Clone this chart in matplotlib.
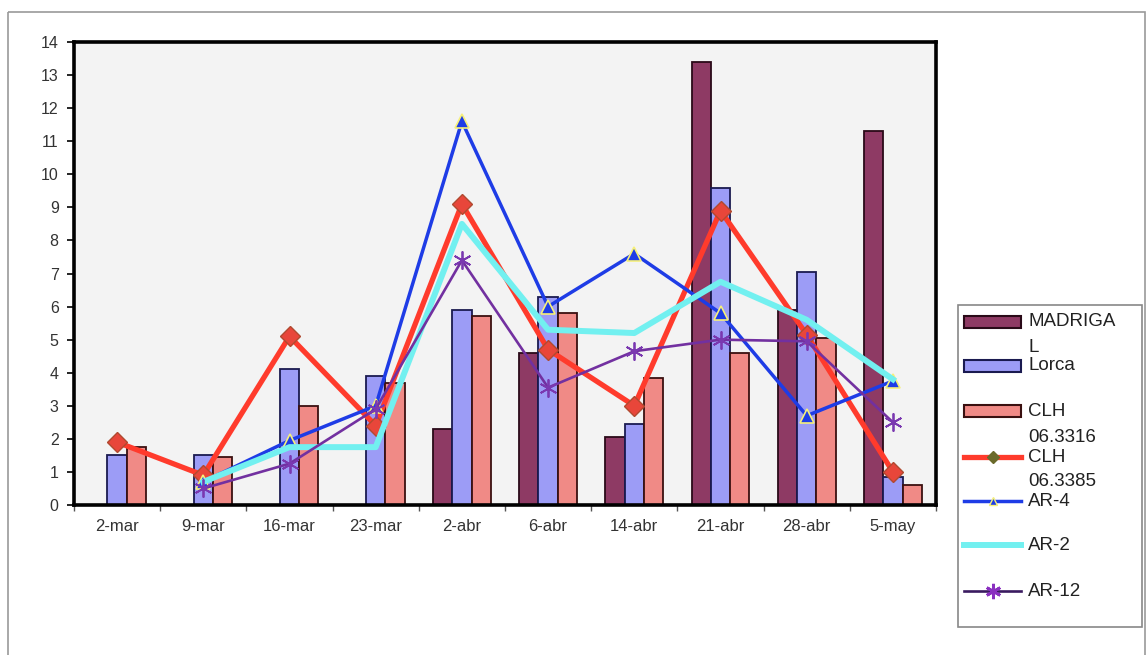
import numpy as np
import matplotlib.pyplot as plt
from matplotlib.patches import Rectangle
from matplotlib.lines import Line2D

nan = np.nan

# Weekly sampling dates
dates = ['2-mar', '9-mar', '16-mar', '23-mar', '2-abr', '6-abr', '14-abr', '21-abr', '28-abr', '5-may']

# Bar series
madrigal = [nan, nan, nan, nan, 2.3, 4.6, 2.05, 13.4, 5.9, 11.3]
lorca = [1.5, 1.5, 4.1, 3.9, 5.9, 6.3, 2.45, 9.6, 7.05, 0.85]
clh_3316 = [1.75, 1.45, 3.0, 3.7, 5.7, 5.8, 3.85, 4.6, 5.05, 0.6]

# Line series
clh_3385 = [1.9, 0.9, 5.1, 2.4, 9.1, 4.7, 3.0, 8.9, 5.15, 1.0]
ar4 = [nan, 0.7, 1.95, 3.0, 11.6, 6.0, 7.6, 5.8, 2.7, 3.75]
ar2 = [nan, 0.7, 1.75, 1.75, 8.5, 5.3, 5.2, 6.75, 5.6, 3.8]
ar12 = [nan, 0.5, 1.25, 2.9, 7.4, 3.55, 4.65, 5.0, 4.95, 2.5]

bar_colors = ['#8E3A64', '#9C9CF6', '#F08A86']
bar_edges = ['#2A0A18', '#1A1A50', '#3A1010']

plt.rcParams['font.family'] = ['Liberation Sans', 'DejaVu Sans']

fig = plt.figure(figsize=(11.47, 6.55), dpi=100)
fig.patch.set_facecolor('white')

# pixel-space overlay for the outer frame and the legend
ov = fig.add_axes([0, 0, 1, 1], zorder=0)
ov.set_xlim(0, 1147)
ov.set_ylim(655, 0)
ov.axis('off')
ov.add_patch(Rectangle((8, 12), 1137, 700, fill=False, ec='#9a9a9a', lw=1.2, clip_on=False))

ax = fig.add_axes([74 / 1147, 150 / 655, 862 / 1147, 463 / 655], zorder=2)
ax.set_facecolor('#F3F3F3')

x = np.arange(len(dates))
w = 0.224
for i, (vals, c, ec) in enumerate(zip([madrigal, lorca, clh_3316], bar_colors, bar_edges)):
    ax.bar(x + (i - 1) * w, vals, width=w, color=c, edgecolor=ec, linewidth=1.3, zorder=2)

ax.plot(x, clh_3385, color='#FF3B2C', lw=3.8, marker='D', ms=10.5,
        mfc='#E8463A', mec='#B04A30', mew=1, zorder=3)
ax.plot(x, ar4, color='#1E3CE6', lw=2.5, marker='^', ms=10,
        mfc='#1E3CE6', mec='#F6F07A', mew=1.2, zorder=4)
ax.plot(x, ar2, color='#72F0F0', lw=4.3, zorder=5)
ax.plot(x, ar12, color='#7230A0', lw=1.9, marker=(6, 2, 0), ms=13,
        mec='#7A38B0', mew=1.3, zorder=6)

ax.set_xlim(-0.5, len(dates) - 0.5)
ax.set_ylim(0, 14)
ax.set_yticks(range(0, 15))
ax.set_xticks(x)
ax.set_xticklabels(dates, fontsize=12, color='#333333')
ax.set_xticks(np.arange(-0.5, len(dates)), minor=True)
ax.tick_params(axis='x', which='major', length=0, pad=10)
ax.tick_params(axis='x', which='minor', length=4, width=1, direction='out', color='#555555')
ax.tick_params(axis='y', length=5, width=1.2, direction='out', pad=6,
               labelsize=11.5, labelcolor='#333333')
for s in ax.spines.values():
    s.set_linewidth(2.6)
    s.set_color('black')

# legend, built line by line so wrapped names keep the handle on the first line
ov.add_patch(Rectangle((958, 305), 184, 322, fc='white', ec='#888888', lw=1.2, zorder=1))
hx0, hx1, tx = 964, 1021, 1028
hxm = (hx0 + hx1) / 2
fs = 13.5
for yy, c, ec in zip([322, 366, 411], bar_colors, bar_edges):
    ov.add_patch(Rectangle((hx0, yy - 6), hx1 - hx0, 12, fc=c, ec=ec, lw=1.5, zorder=2))
ov.add_line(Line2D([hx0, hxm, hx1], [457, 457, 457], color='#FF3B2C', lw=3.8, marker='D', ms=6,
                   mfc='#6A6A2A', mec='#6A6A2A', markevery=[1], zorder=2))
ov.add_line(Line2D([hx0, hxm, hx1], [501, 501, 501], color='#1E3CE6', lw=2.5,
                   marker='^', ms=6, mfc='#1E3CE6', mec='#F6F07A', markevery=[1], zorder=2))
ov.add_line(Line2D([hx0, hx1], [545, 545], color='#72F0F0', lw=4.3, zorder=2))
ov.add_line(Line2D([hx0, hxm, hx1], [591, 591, 591], color='#3A1A60', lw=1.9,
                   marker=(6, 2, 0), ms=11, mec='#8A30C0', mew=2, markevery=[1], zorder=2))
legend_lines = [('MADRIGA', 322), ('L', 347), ('Lorca', 366), ('CLH', 411), ('06.3316', 437),
                ('CLH', 457), ('06.3385', 481), ('AR-4', 501), ('AR-2', 545), ('AR-12', 591)]
for txt, yy in legend_lines:
    ov.text(tx, yy, txt, fontsize=fs, color='#222222', va='center', ha='left', zorder=3)

fig.savefig('out.png', dpi=100)
